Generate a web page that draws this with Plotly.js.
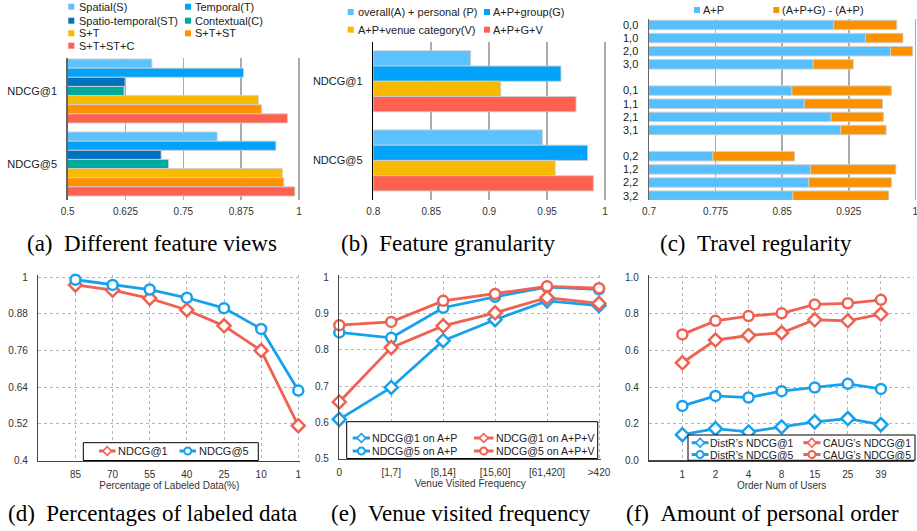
<!DOCTYPE html>
<html><head><meta charset="utf-8">
<script src="https://cdn.plot.ly/plotly-3.0.1.min.js"></script>
<style>html,body{margin:0;padding:0;background:#fff;} #chart{width:917px;height:531px;}</style>
</head><body><div id="chart"></div>
<script>
// ---------- DATA ----------
// (a) Different feature views
const viewCats = ['NDCG@1', 'NDCG@5'];
const viewNames = ['Spatial(S)', 'Temporal(T)', 'Spatio-temporal(ST)', 'Contextual(C)', 'S+T', 'S+T+ST', 'S+T+ST+C'];
const viewS = [0.682, 0.823];
const viewT = [0.880, 0.950];
const viewST = [0.624, 0.702];
const viewC = [0.622, 0.718];
const viewS_T = [0.912, 0.964];
const viewS_T_ST = [0.919, 0.967];
const viewAll = [0.975, 0.991];

// (b) Feature granularity
const granCats = ['NDCG@1', 'NDCG@5'];
const granNames = ['overall(A) + personal (P)', 'A+P+group(G)', 'A+P+venue category(V)', 'A+P+G+V'];
const granAP = [0.884, 0.946];
const granAPG = [0.962, 0.985];
const granAPV = [0.910, 0.957];
const granAPGV = [0.975, 0.990];

// (c) Travel regularity
const regCats = ['0,0', '1,0', '2,0', '3,0', '0,1', '1,1', '2,1', '3,1', '0,2', '1,2', '2,2', '3,2'];
const regNames = ['A+P', '(A+P+G) - (A+P)'];
const regAP = [0.908, 0.944, 0.972, 0.885, 0.861, 0.875, 0.905, 0.916, 0.772, 0.882, 0.880, 0.862];
const regGain = [0.071, 0.042, 0.025, 0.045, 0.112, 0.088, 0.059, 0.051, 0.092, 0.096, 0.093, 0.108];
const regTicks = [0.7, 0.775, 0.85, 0.925, 1];

// (d) Percentages of labeled data
const pctCats = ['85', '70', '55', '40', '25', '10', '1'];
const pctNdcg1 = [0.975, 0.958, 0.931, 0.893, 0.841, 0.760, 0.514];
const pctNdcg5 = [0.992, 0.975, 0.960, 0.933, 0.899, 0.831, 0.629];

// (e) Venue visited frequency
const freqCats = ['0', '[1,7]', '[8,14]', '[15,60]', '[61,420]', '>420'];
const freqN1AP = [0.608, 0.696, 0.825, 0.883, 0.935, 0.922];
const freqN5AP = [0.848, 0.833, 0.916, 0.946, 0.973, 0.967];
const freqN1APV = [0.656, 0.806, 0.866, 0.902, 0.944, 0.928];
const freqN5APV = [0.868, 0.877, 0.935, 0.954, 0.975, 0.970];

// (f) Amount of personal order
const userCats = ['1', '2', '4', '8', '15', '25', '39'];
const distrN1 = [0.140, 0.173, 0.155, 0.182, 0.210, 0.228, 0.195];
const distrN5 = [0.297, 0.352, 0.343, 0.378, 0.398, 0.418, 0.390];
const caugN1 = [0.533, 0.657, 0.682, 0.697, 0.768, 0.762, 0.799];
const caugN5 = [0.688, 0.762, 0.788, 0.803, 0.852, 0.858, 0.877];

// ---------- STYLE ----------
const W = 917, H = 531;
const X = p => p / W, Y = p => 1 - p / H;
const SANS = 'Liberation Sans, Arial, sans-serif';
const SERIF = 'Liberation Serif, Times New Roman, serif';
const viewColors = ['#5BC2FF', '#00A2FA', '#0071BC', '#00A99D', '#F7BA00', '#FF9100', '#FF6150'];
const granColors = ['#5BC2FF', '#00A2FA', '#F7BA00', '#FF6150'];
const regColors = ['#56C0FF', '#FA9200'];
const RED = '#EF6150', BLUE = '#17A1EC';
const barLine = {color: 'rgba(205,205,205,0.9)', width: 1};

// extend an axis end by a few px so the edge gridline is kept
function extEnd(p0, p1, v0, v1, padPx) {
  const upp = (v1 - v0) / (p1 - p0);
  return {dom: [p0, p1 + padPx], rng: [v0, v1 + upp * padPx]};
}

const traces = [];
// (a)
const viewSeries = [viewS, viewT, viewST, viewC, viewS_T, viewS_T_ST, viewAll];
const groupA = 0.877, bwA = groupA / viewSeries.length;
viewSeries.forEach((vals, k) => traces.push({
  type: 'bar', orientation: 'h', x: vals, y: viewCats, xaxis: 'x', yaxis: 'y', name: viewNames[k],
  width: bwA, offset: -groupA / 2 + k * bwA, marker: {color: viewColors[k], line: barLine}, hoverinfo: 'skip'
}));
// (b)
const granSeries = [granAP, granAPG, granAPV, granAPGV];
const groupB = 0.771, bwB = groupB / granSeries.length;
granSeries.forEach((vals, k) => traces.push({
  type: 'bar', orientation: 'h', x: vals, y: granCats, xaxis: 'x2', yaxis: 'y2', name: granNames[k],
  width: bwB, offset: -groupB / 2 + k * bwB, marker: {color: granColors[k], line: barLine}, hoverinfo: 'skip'
}));
// (c) stacked manually: gain starts where A+P ends
const regPos = regCats.map((c, i) => i + Math.floor(i / 4));
traces.push({type: 'bar', orientation: 'h', x: regAP, y: regPos, xaxis: 'x3', yaxis: 'y3', name: regNames[0],
  width: 0.72, offset: -0.36, marker: {color: regColors[0], line: barLine}, hoverinfo: 'skip'});
traces.push({type: 'bar', orientation: 'h', x: regGain, base: regAP, y: regPos, xaxis: 'x3', yaxis: 'y3', name: regNames[1],
  width: 0.72, offset: -0.36, marker: {color: regColors[1], line: barLine}, hoverinfo: 'skip'});

function lineTrace(xs, ys, xa, ya, color, sym, name) {
  return {type: 'scatter', mode: 'lines+markers', x: xs, y: ys, xaxis: xa, yaxis: ya, name: name,
    line: {color: color, width: 2.8}, cliponaxis: false,
    marker: {symbol: sym, size: 10, color: '#fff', line: {color: color, width: 2.5}}, hoverinfo: 'skip'};
}
// (d)
traces.push(lineTrace(pctCats, pctNdcg1, 'x4', 'y4', RED, 'diamond', 'NDCG@1'));
traces.push(lineTrace(pctCats, pctNdcg5, 'x4', 'y4', BLUE, 'circle', 'NDCG@5'));
// (e)
traces.push(lineTrace(freqCats, freqN1AP, 'x5', 'y5', BLUE, 'diamond', 'NDCG@1 on A+P'));
traces.push(lineTrace(freqCats, freqN5AP, 'x5', 'y5', BLUE, 'circle', 'NDCG@5 on A+P'));
traces.push(lineTrace(freqCats, freqN1APV, 'x5', 'y5', RED, 'diamond', 'NDCG@1 on A+P+V'));
traces.push(lineTrace(freqCats, freqN5APV, 'x5', 'y5', RED, 'circle', 'NDCG@5 on A+P+V'));
// (f)
traces.push(lineTrace(userCats, distrN1, 'x6', 'y6', BLUE, 'diamond', 'DistR\u2019s NDCG@1'));
traces.push(lineTrace(userCats, distrN5, 'x6', 'y6', BLUE, 'circle', 'DistR\u2019s NDCG@5'));
traces.push(lineTrace(userCats, caugN1, 'x6', 'y6', RED, 'diamond', 'CAUG\u2019s NDCG@1'));
traces.push(lineTrace(userCats, caugN5, 'x6', 'y6', RED, 'circle', 'CAUG\u2019s NDCG@5'));

// ---------- AXES ----------
const tickF = {family: SANS, size: 10, color: '#333'};
function barX(e, t0, dt) {
  return {domain: [X(e.dom[0]), Math.min(1, X(e.dom[1]))], range: e.rng, tick0: t0, dtick: dt, showgrid: true, gridcolor: '#ababab', gridwidth: 1.5,
    zeroline: false, showline: false, ticks: '', tickfont: tickF, ticklabelstandoff: 4, ticklabeloverflow: 'allow', fixedrange: true};
}
function barY(top, bot, r, lc) {
  return {domain: [Y(bot), Y(top)], range: r, showgrid: false, zeroline: false, showline: true, linecolor: lc, linewidth: 1.5,
    ticks: '', tickfont: {family: SANS, size: 11, color: '#222'}, ticklabelstandoff: 7, fixedrange: true};
}
function lineX(e, title) {
  return {domain: [X(e.dom[0]), X(e.dom[1])], type: 'category', range: e.rng, showgrid: true, gridcolor: '#b5b5b5', griddash: 'dot', gridwidth: 1,
    zeroline: false, showline: true, linecolor: '#444', linewidth: 1.5, ticks: '', tickfont: tickF, ticklabelstandoff: 4,
    title: {text: title, font: {family: SANS, size: 10, color: '#333'}, standoff: 3}, fixedrange: true};
}
function lineY(top, bot, v0, v1, dt, fmt) {
  // top edge extended 2px upward (pixel y grows downward)
  const upp = (v1 - v0) / (bot - top);
  const a = {domain: [Y(bot), Y(top - 2)], range: [v0, v1 + 2 * upp], tick0: v0, dtick: dt, showgrid: true, gridcolor: '#b5b5b5', griddash: 'dot', gridwidth: 1,
    zeroline: false, showline: true, linecolor: '#444', linewidth: 1.5, ticks: '', tickfont: tickF, ticklabelstandoff: 7, fixedrange: true};
  if (fmt) a.tickformat = fmt;
  return a;
}

const layout = {
  width: W, height: H, margin: {l: 0, r: 0, t: 0, b: 0}, paper_bgcolor: '#fff', plot_bgcolor: 'rgba(0,0,0,0)',
  showlegend: false, barmode: 'overlay', font: {family: SANS, size: 10, color: '#333'},
  xaxis: Object.assign(barX(extEnd(67.7, 299, 0.5, 1.0, 2), 0.5, 0.125), {anchor: 'y'}),
  yaxis: Object.assign(barY(58, 200, [1.493, -0.452], '#666'), {anchor: 'x', type: 'category'}),
  xaxis2: Object.assign(barX(extEnd(373.3, 605, 0.8, 1.0, 2), 0.8, 0.05), {anchor: 'y2'}),
  yaxis2: Object.assign(barY(41.7, 200, [1.5, -0.5], '#000'), {anchor: 'x2', type: 'category'}),
  xaxis3: Object.assign(barX(extEnd(649, 915.4, 0.7, 1.0, 1.6), 0.7, 0.075), {anchor: 'y3', tickmode: 'array', tickvals: regTicks, ticktext: regTicks.map(String), ticklabelshift: -1.5}),
  yaxis3: Object.assign(barY(19.3, 200, [13.33, -0.43], '#666'), {anchor: 'x3', tickmode: 'array', tickvals: regPos, ticktext: regCats}),
  xaxis4: Object.assign(lineX(extEnd(38.3, 298.3, -1, 6, 2), 'Percentage of Labeled Data(%)'), {anchor: 'y4'}),
  yaxis4: Object.assign(lineY(277.3, 460.5, 0.4, 1.0, 0.12), {anchor: 'x4'}),
  xaxis5: Object.assign(lineX(extEnd(339.3, 599, 0, 5, 2), 'Venue Visited Frequency'), {anchor: 'y5'}),
  yaxis5: Object.assign(lineY(277.3, 458.5, 0.5, 1.0, 0.1), {anchor: 'x5'}),
  xaxis6: Object.assign(lineX(extEnd(649.3, 914, -1, 7, 0), 'Order Num of Users'), {anchor: 'y6'}),
  yaxis6: Object.assign(lineY(277.3, 460.3, 0, 1.0, 0.2, '.1f'), {anchor: 'x6'}),
  shapes: [], annotations: []
};

// ---------- LEGENDS (drawn by hand) ----------
function legText(x, y, text, size) {
  layout.annotations.push({xref: 'paper', yref: 'paper', x: X(x), y: Y(y), xanchor: 'left', yanchor: 'middle',
    text: text, showarrow: false, borderpad: 0, font: {family: SANS, size: size, color: '#222'}});
}
function sqLeg(x, y, color, text, tx) {
  layout.shapes.push({type: 'rect', xref: 'paper', yref: 'paper', x0: X(x), x1: X(x + 6), y0: Y(y + 3), y1: Y(y - 3),
    fillcolor: color, line: {width: 0}, layer: 'above'});
  legText(tx, y, text, 11);
}
function lineLeg(x1, x2, y, color, sym, text, tx, size) {
  layout.shapes.push({type: 'line', xref: 'paper', yref: 'paper', x0: X(x1), x1: X(x2), y0: Y(y), y1: Y(y),
    line: {color: color, width: 3}, layer: 'above'});
  const cx = (x1 + x2) / 2, r = 3.5;
  if (sym === 'circle') {
    layout.shapes.push({type: 'circle', xref: 'paper', yref: 'paper', x0: X(cx - r), x1: X(cx + r), y0: Y(y + r), y1: Y(y - r),
      fillcolor: '#fff', line: {color: color, width: 2}, layer: 'above'});
  } else {
    const d = 4.3;
    layout.shapes.push({type: 'path', xref: 'paper', yref: 'paper',
      path: `M${X(cx)},${Y(y - d)}L${X(cx + d)},${Y(y)}L${X(cx)},${Y(y + d)}L${X(cx - d)},${Y(y)}Z`,
      fillcolor: '#fff', line: {color: color, width: 1.6}, layer: 'above'});
  }
  legText(tx, y, text, size);
}
function legBox(x0, x1, y0, y1) {
  layout.shapes.push({type: 'rect', xref: 'paper', yref: 'paper', x0: X(x0), x1: X(x1), y0: Y(y1), y1: Y(y0),
    fillcolor: '#fff', line: {color: '#000', width: 1}, layer: 'above'});
}

// (a)
const aRows = [6.7, 20.7, 33.3, 45.7];
viewNames.forEach((n, k) => {
  const col = k % 2, row = Math.floor(k / 2);
  sqLeg(col ? 185 : 68.3, aRows[row], viewColors[k], n, col ? 194 : 78);
});
// (b)
granNames.forEach((n, k) => {
  const col = k % 2, row = Math.floor(k / 2);
  sqLeg(col ? 484 : 347.7, row ? 29.7 : 12, granColors[k], n, col ? 492 : 356.5);
});
// (c)
sqLeg(694, 10, regColors[0], regNames[0], 701.5);
sqLeg(773.3, 10, regColors[1], regNames[1], 780.5);
// (d)
legBox(83.3, 258.3, 442.7, 460.5);
lineLeg(99, 115.5, 451, RED, 'diamond', 'NDCG@1', 117, 11);
lineLeg(179.5, 196, 451, BLUE, 'circle', 'NDCG@5', 198.3, 11);
// (e)
legBox(346.7, 597.7, 421.7, 458.5);
lineLeg(352.7, 370, 438, BLUE, 'diamond', 'NDCG@1 on A+P', 370.7, 10.6);
lineLeg(352.7, 370, 451, BLUE, 'circle', 'NDCG@5 on A+P', 370.7, 10.6);
lineLeg(474, 493.5, 438, RED, 'diamond', 'NDCG@1 on A+P+V', 494.5, 10.6);
lineLeg(474, 493.5, 451, RED, 'circle', 'NDCG@5 on A+P+V', 494.5, 10.6);
// (f)
legBox(688, 915, 435, 460.3);
lineLeg(691.7, 708.5, 442.7, BLUE, 'diamond', 'DistR\u2019s NDCG@1', 709.3, 10.5);
lineLeg(691.7, 708.5, 454.5, BLUE, 'circle', 'DistR\u2019s NDCG@5', 709.3, 10.5);
lineLeg(803.3, 820.5, 442.7, RED, 'diamond', 'CAUG\u2019s NDCG@1', 821.7, 10.5);
lineLeg(803.3, 820.5, 454.5, RED, 'circle', 'CAUG\u2019s NDCG@5', 821.7, 10.5);

// ---------- CAPTIONS ----------
const captions = [
  ['(a)\u2002Different feature views', 151.5, 243.5],
  ['(b)\u2002Feature granularity', 448, 243.5],
  ['(c)\u2002Travel regularity', 755.5, 243.5],
  ['(d)\u2002Percentages of labeled data', 152.5, 513.5],
  ['(e)\u2002Venue visited frequency', 460.8, 513.5],
  ['(f)\u2002Amount of personal order', 762, 513.5]
];
captions.forEach(c => layout.annotations.push({xref: 'paper', yref: 'paper', x: X(c[1]), y: Y(c[2]), xanchor: 'center', yanchor: 'middle',
  text: c[0], showarrow: false, font: {family: SERIF, size: 23, color: '#000'}}));

Plotly.newPlot('chart', traces, layout, {staticPlot: true, displayModeBar: false});
</script>
</body></html>
